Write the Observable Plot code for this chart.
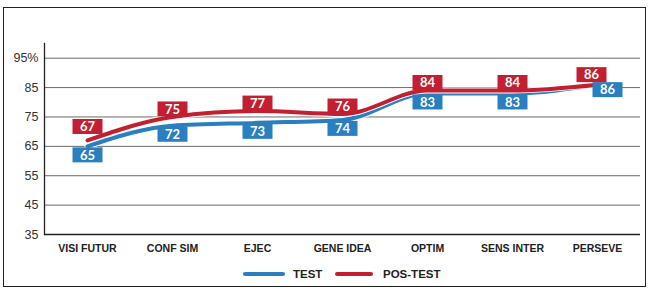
<!DOCTYPE html>
<html>
<head>
<meta charset="utf-8">
<script src="https://cdn.jsdelivr.net/npm/d3@7"></script>
<script src="https://cdn.jsdelivr.net/npm/@observablehq/plot@0.6"></script>
<style>
  body { margin: 0; background: #fff; font-family: "Liberation Sans Narrow", "Liberation Sans", Arial, sans-serif; }
  #frame { position: absolute; left: 3px; top: 7px; width: 641px; height: 278px; border: 1.5px solid #222; }
  #chart { position: absolute; left: 0; top: 0; }
  #legend { position: absolute; left: 0; top: 266px; width: 650px; height: 16px; }
  .sw { position: absolute; top: 6px; height: 4px; border-radius: 2px; }
  .lt { position: absolute; top: 0; font-size: 11.5px; font-weight: bold; color: #222; line-height: 16px; }
</style>
</head>
<body>
<div id="frame"></div>
<div id="chart"></div>
<div id="legend">
  <div class="sw" style="left:243px;width:42px;background:#2a7fc1"></div>
  <div class="lt" style="left:293px">TEST</div>
  <div class="sw" style="left:335px;width:38px;background:#c21f30"></div>
  <div class="lt" style="left:383px">POS-TEST</div>
</div>
<script>
const categories = ["VISI FUTUR", "CONF SIM", "EJEC", "GENE IDEA", "OPTIM", "SENS INTER", "PERSEVE"];
const testValues = [65, 72, 73, 74, 83, 83, 86];
const posTestValues = [67, 75, 77, 76, 84, 84, 86];
const yTicks = [35, 45, 55, 65, 75, 85, 95];

const BLUE = "#2a7fc1";
const RED = "#c21f30";
const n = categories.length;

// label offsets (layout only, computed from index)
const test = categories.map((c, i) => ({cat: c, v: testValues[i],
  dx: i === n - 1 ? 10 : 0, dy: i === n - 1 ? 5 : 8.5}));
const pos = categories.map((c, i) => ({cat: c, v: posTestValues[i],
  dx: i === n - 1 ? -6 : 0, dy: i === 0 ? -14 : i === n - 1 ? -10 : -8}));

const box = {draw(ctx) { ctx.rect(-15, -7.5, 30, 15); }};

function labels(data, color) {
  const marks = [];
  for (const d of data) {
    marks.push(Plot.dot([d], {x: "cat", y: "v", symbol: box, r: 1, fill: color, stroke: null, dx: d.dx, dy: d.dy}));
    marks.push(Plot.text([d], {x: "cat", y: "v", text: e => String(e.v), fill: "white", fontSize: 13,
      fontWeight: "bold", dx: d.dx, dy: d.dy + 0.5, fontFamily: "Lato, sans-serif"}));
  }
  return marks;
}

const chart = Plot.plot({
  width: 650,
  height: 260,
  marginLeft: 44,
  marginRight: 10,
  marginTop: 43,
  marginBottom: 26,
  style: {fontFamily: "'Liberation Sans Narrow', 'Liberation Sans', Arial, sans-serif", background: "transparent", overflow: "visible"},
  x: {type: "point", domain: categories, padding: 0.5, label: null},
  y: {domain: [35, 100], label: null},
  marks: [
    Plot.ruleY(yTicks.filter(t => t > 35), {stroke: "#6b6b6b", strokeWidth: 1, strokeOpacity: 1}),
    Plot.frame({anchor: "left", stroke: "#222", strokeWidth: 1.3}),
    Plot.ruleY([35], {stroke: "#222", strokeWidth: 1.3}),
    Plot.axisY({ticks: yTicks, tickSize: 0, tickPadding: 6, fontSize: 12.5, fill: "#333",
      tickFormat: d => d === 95 ? "95%" : String(d)}),
    Plot.axisX({tickSize: 0, tickPadding: 10, fontSize: 10.5, fontWeight: "bold", fill: "#222"}),
    Plot.line(test, {x: "cat", y: "v", stroke: "white", strokeWidth: 6, curve: "monotone-x"}),
    Plot.line(test, {x: "cat", y: "v", stroke: BLUE, strokeWidth: 4, curve: "monotone-x"}),
    Plot.line(pos, {x: "cat", y: "v", stroke: "white", strokeWidth: 6, curve: "monotone-x"}),
    Plot.line(pos, {x: "cat", y: "v", stroke: RED, strokeWidth: 4, curve: "monotone-x"}),
    ...labels(test, BLUE),
    ...labels(pos, RED)
  ]
});
document.getElementById("chart").appendChild(chart);
</script>
</body>
</html>
